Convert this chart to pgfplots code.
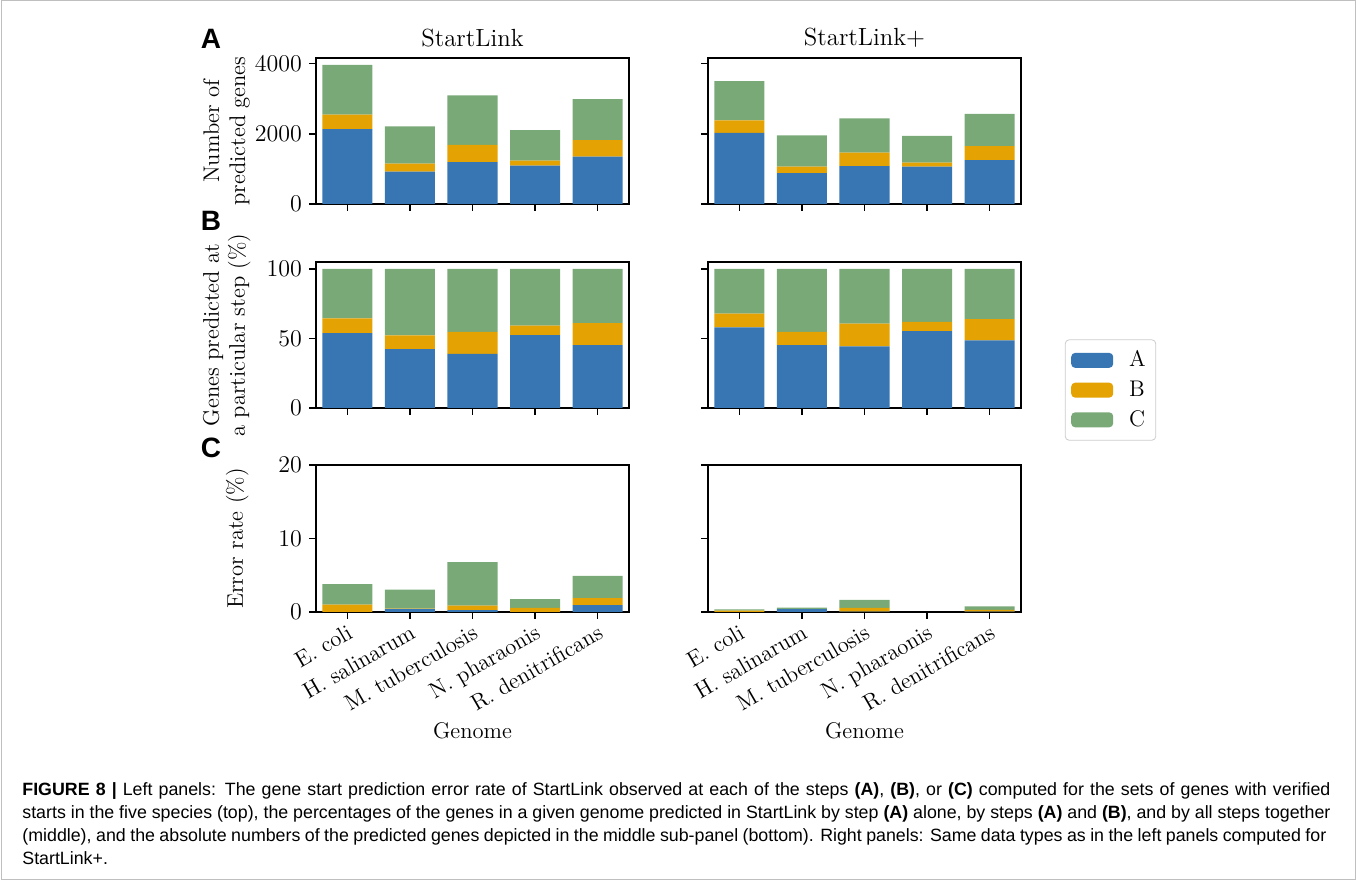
\documentclass[border=0pt]{standalone}
\usepackage{fontspec}
\usepackage{pgfplots}
\pgfplotsset{compat=1.18}
\newfontfamily\capfont{Liberation Sans}
\definecolor{cA}{HTML}{3776B3}
\definecolor{cB}{HTML}{E5A203}
\definecolor{cC}{HTML}{78A976}
\pgfplotsset{
  base/.style={
    scale only axis, width=156.5pt, height=73pt,
    xmin=-0.5, xmax=4.5, ymin=0,
    ybar stacked, bar width=0.8,
    xtick={0,1,2,3,4}, xticklabels={},
    xtick pos=left, ytick pos=left,
    tick align=outside, major tick length=3.5pt,
    axis line style={line width=0.9pt, black},
    tick style={line width=0.8pt, black},
    tick label style={font=\fontsize{11.6}{13}\selectfont},
    label style={font=\fontsize{11.3}{13}\selectfont},
    ylabel style={align=center, anchor=south, inner sep=0pt},
    /pgf/number format/1000 sep={},
    every axis plot/.append style={draw=none},
    legend image code/.code={\fill[##1] (0pt,-3.75pt) rectangle (21pt,3.75pt);},
  },
  toprow/.style={ymax=4160, ytick={0,2000,4000}, height=73pt},
  midrow/.style={ymax=105, ytick={0,50,100}, height=73pt},
  botrow/.style={ymax=20, ytick={0,10,20}, height=73.5pt,
    xticklabels={E. coli, H. salinarum, M. tuberculosis, N. pharaonis, R. denitrificans},
    x tick label style={rotate=30, anchor=north east, inner sep=1.5pt, font=\fontsize{11.3}{13}\selectfont},
    xlabel={Genome}},
}
\begin{document}
\begin{tikzpicture}
\useasboundingbox (0,0) rectangle (678pt,-440.5pt);
\draw[black!25, line width=0.5pt] (0.5pt,-0.5pt) rectangle (677.5pt,-440pt);

% ---------- row 1 ----------
\begin{axis}[base, toprow, at={(158pt,-29pt)}, anchor=north west,
  ylabel={Number of\\predicted genes},
  ylabel style={at={(axis description cs:-0.21,0.5)}},
  title={StartLink}, title style={font=\fontsize{12.4}{14}\selectfont, yshift=-4pt}]
\addplot[fill=cA] coordinates {(0,2133) (1,924) (2,1190) (3,1095) (4,1352)};
\addplot[fill=cB] coordinates {(0,410) (1,228) (2,496) (3,143) (4,466)};
\addplot[fill=cC] coordinates {(0,1419) (1,1058) (2,1409) (3,867) (4,1172)};
\end{axis}
\begin{axis}[base, toprow, at={(354pt,-29pt)}, anchor=north west, yticklabels={},
  title={StartLink+}, title style={font=\fontsize{12.4}{14}\selectfont, yshift=-4pt}]
\addplot[fill=cA] coordinates {(0,2028) (1,876) (2,1076) (3,1066) (4,1247)};
\addplot[fill=cB] coordinates {(0,352) (1,190) (2,390) (3,114) (4,400)};
\addplot[fill=cC] coordinates {(0,1123) (1,886) (2,971) (3,762) (4,923)};
\end{axis}

% ---------- row 2 ----------
\begin{axis}[base, midrow, at={(158pt,-131pt)}, anchor=north west,
  ylabel={Genes predicted at\\a particular step (\%)},
  ylabel style={at={(axis description cs:-0.208,0.5)}}]
\addplot[fill=cA] coordinates {(0,53.8) (1,42.3) (2,39.0) (3,52.4) (4,45.2)};
\addplot[fill=cB] coordinates {(0,10.6) (1,9.9) (2,15.8) (3,6.9) (4,15.8)};
\addplot[fill=cC] coordinates {(0,35.6) (1,47.8) (2,45.2) (3,40.7) (4,39.0)};
\end{axis}
\begin{axis}[base, midrow, at={(354pt,-131pt)}, anchor=north west, yticklabels={},
  legend style={at={(1.14,0.123)}, anchor=west, draw=black!20, rounded corners=2pt,
    font=\fontsize{11.3}{13}\selectfont, inner xsep=3pt, inner ysep=3.5pt,
    row sep=1.5pt, /tikz/every odd column/.style={column sep=2pt}},
  legend cell align=left]
\addplot[fill=cA] coordinates {(0,58.0) (1,45.2) (2,44.3) (3,55.2) (4,48.6)};
\addplot[fill=cB] coordinates {(0,9.9) (1,9.6) (2,16.3) (3,6.7) (4,15.4)};
\addplot[fill=cC] coordinates {(0,32.1) (1,45.2) (2,39.4) (3,38.1) (4,36.0)};
\addlegendentry{\hspace{4pt}A}
\addlegendentry{\hspace{4pt}B}
\addlegendentry{\hspace{4pt}C}
\end{axis}

% ---------- row 3 ----------
\begin{axis}[base, botrow, at={(158pt,-232.5pt)}, anchor=north west,
  ylabel={Error rate (\%)},
  ylabel style={at={(axis description cs:-0.214,0.5)}}]
\addplot[fill=cA] coordinates {(0,0) (1,0.4) (2,0.25) (3,0) (4,0.95)};
\addplot[fill=cB] coordinates {(0,1.0) (1,0.05) (2,0.6) (3,0.55) (4,0.95)};
\addplot[fill=cC] coordinates {(0,2.8) (1,2.6) (2,5.95) (3,1.2) (4,3.0)};
\end{axis}
\begin{axis}[base, botrow, at={(354pt,-232.5pt)}, anchor=north west, yticklabels={}]
\addplot[fill=cA] coordinates {(0,0) (1,0.4) (2,0.05) (3,0) (4,0.05)};
\addplot[fill=cB] coordinates {(0,0.2) (1,0) (2,0.5) (3,0) (4,0.25)};
\addplot[fill=cC] coordinates {(0,0.15) (1,0.2) (2,1.1) (3,0) (4,0.45)};
\end{axis}

% panel letters
\node[font=\capfont\bfseries\fontsize{14}{16}\selectfont] at (105.5pt,-19.5pt) {A};
\node[font=\capfont\bfseries\fontsize{14}{16}\selectfont] at (105.5pt,-110.5pt) {B};
\node[font=\capfont\bfseries\fontsize{14}{16}\selectfont] at (105.5pt,-224pt) {C};

% caption
\begin{scope}[every node/.style={anchor=base west, inner sep=0pt, font=\capfont\fontsize{8.9}{10}\selectfont}]
\node at (11pt,-398pt) {\makebox[654pt][s]{\textbf{FIGURE 8 |} Left panels: The gene start prediction error rate of StartLink observed at each of the steps \textbf{(A)}, \textbf{(B)}, or \textbf{(C)} computed for the sets of genes with verified}};
\node at (11pt,-409.5pt) {\makebox[654pt][s]{starts in the five species (top), the percentages of the genes in a given genome predicted in StartLink by step \textbf{(A)} alone, by steps \textbf{(A)} and \textbf{(B)}, and by all steps together}};
\node at (11pt,-421pt) {\makebox[652pt][s]{(middle), and the absolute numbers of the predicted genes depicted in the middle sub-panel (bottom). Right panels: Same data types as in the left panels computed for}};
\node at (11pt,-432pt) {StartLink+.};
\end{scope}
\end{tikzpicture}
\end{document}
